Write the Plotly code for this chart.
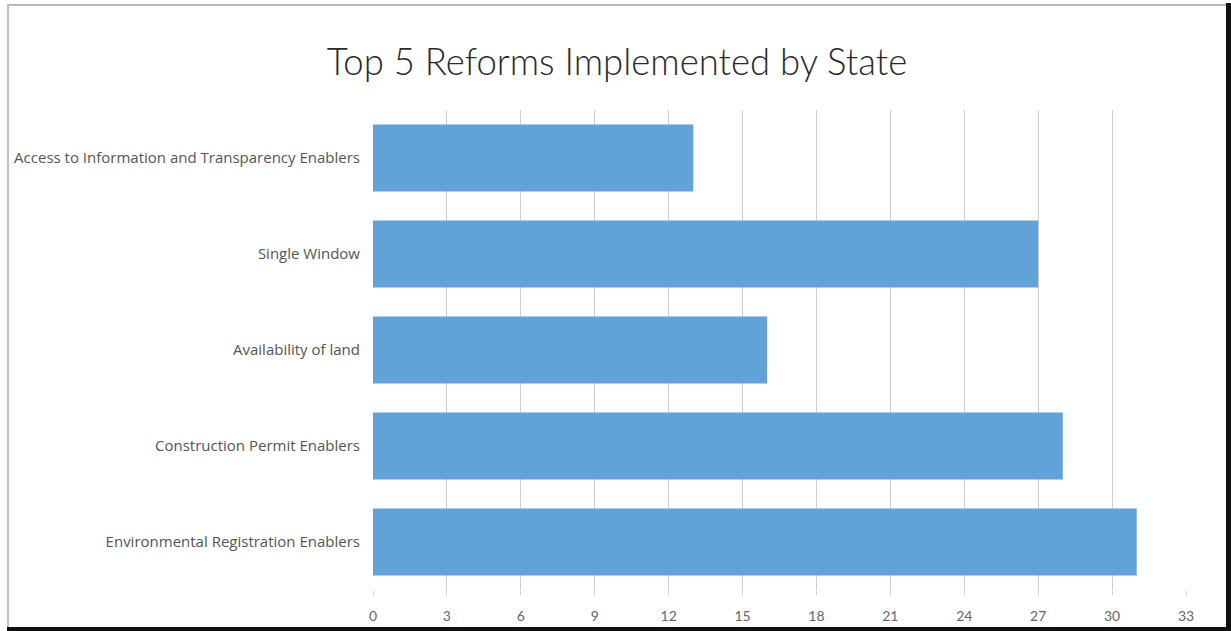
import plotly.graph_objects as go

categories = [
    "Access to Information and Transparency Enablers",
    "Single Window",
    "Availability of land",
    "Construction Permit Enablers",
    "Environmental Registration Enablers",
]
values = [13, 27, 16, 28, 31]
tick_vals = list(range(0, 34, 3))

W, H = 1231, 631
L, R, T, B = 373, 45, 110, 41
pw, ph = W - L - R, H - T - B

def px(x):
    return (x - L) / pw

def py(y):
    return (H - B - y) / ph

fig = go.Figure(go.Bar(
    y=categories, x=values, orientation="h",
    marker=dict(color="#61a3d8", line=dict(width=0)),
))

shapes = [
    dict(type="line", xref="paper", yref="paper", x0=px(7), x1=px(1226), y0=py(5), y1=py(5),
         line=dict(color="#b8b8b8", width=2)),
    dict(type="line", xref="paper", yref="paper", x0=px(8), x1=px(8), y0=py(5), y1=py(628),
         line=dict(color="#c0c0c0", width=2)),
    dict(type="rect", xref="paper", yref="paper", x0=px(1226), x1=px(1232), y0=py(3), y1=py(632),
         fillcolor="#111111", line=dict(width=0)),
    dict(type="rect", xref="paper", yref="paper", x0=px(7), x1=px(1232), y0=py(627), y1=py(632),
         fillcolor="#111111", line=dict(width=0)),
]

fig.update_layout(
    width=W, height=H,
    margin=dict(l=L, r=R, t=T, b=B, autoexpand=False),
    paper_bgcolor="white", plot_bgcolor="white",
    bargap=0.3,
    showlegend=False,
    title=dict(text="Top 5 Reforms Implemented by State", x=617 / W, xref="container", xanchor="center",
               y=1 - 62 / H, yanchor="middle", yref="container",
               font=dict(family="Lato, 'Open Sans', sans-serif", size=36.5, color="#2a2a2a", weight=300)),
    xaxis=dict(range=[0, 33], tickvals=tick_vals, showgrid=True, gridcolor="#cfcfcf", gridwidth=1,
               zeroline=False, showline=False, ticks="outside", ticklen=4, tickcolor="#cfcfcf",
               ticklabelstandoff=9, automargin=False,
               tickfont=dict(family="Lato, 'Open Sans', sans-serif", size=14, color="#666666")),
    yaxis=dict(autorange="reversed", showgrid=False, zeroline=False, showline=False,
               ticks="", ticklabelstandoff=12, automargin=False,
               tickfont=dict(family="'Open Sans', sans-serif", size=15, color="#555555")),
    shapes=shapes,
)

fig.write_html("out.html")
